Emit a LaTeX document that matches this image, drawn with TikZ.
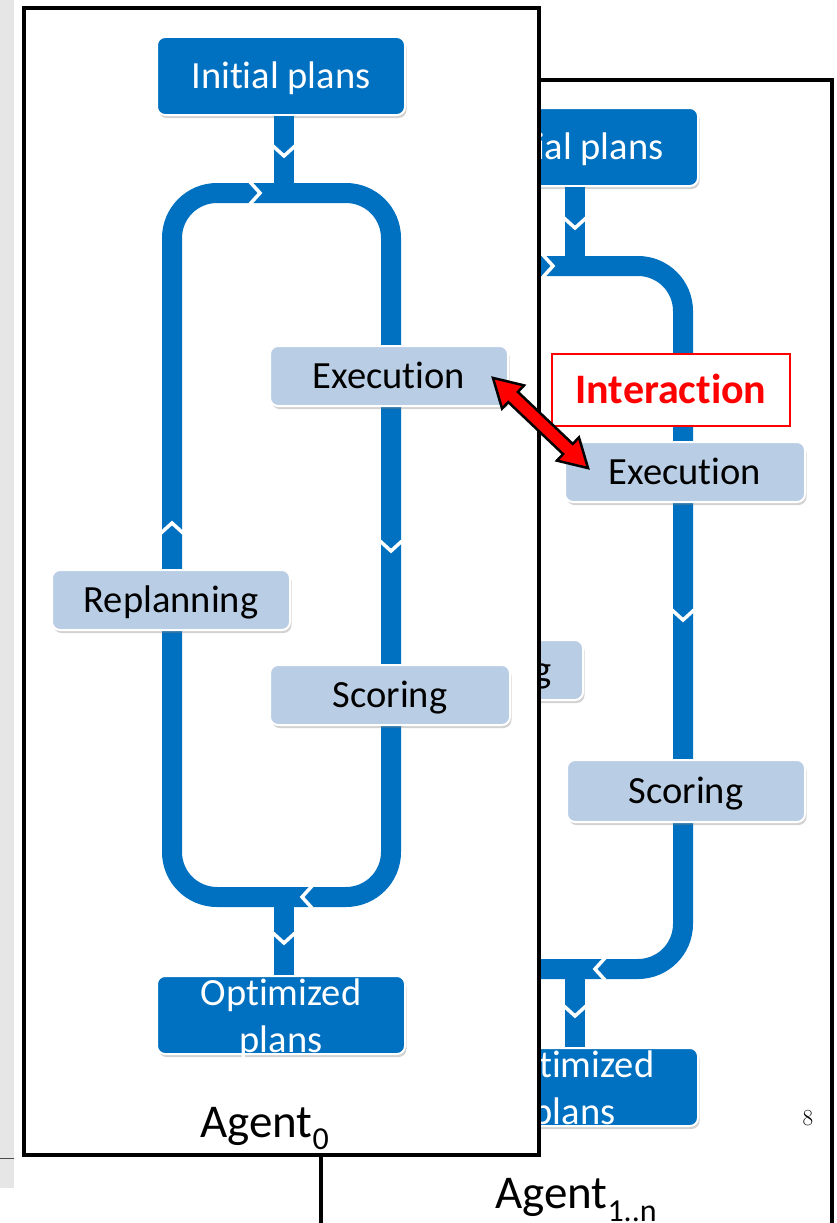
\documentclass[tikz,border=0pt]{standalone}
\usepackage{fontspec}
\setmainfont[Ligatures=NoCommon]{Carlito}
\newfontfamily\lmfont{Latin Modern Roman}
\usetikzlibrary{shadows,shapes.arrows}
\definecolor{pipeblue}{RGB}{0,112,192}
\definecolor{boxlight}{RGB}{185,205,229}
\definecolor{stripgray}{RGB}{230,230,230}
\begin{document}
\begin{tikzpicture}[x=1pt,y=-1pt,
  pipe/.style={draw=pipeblue, line width=20pt},
  boxbase/.style={rounded corners=8pt, draw=white, line width=2pt, inner sep=0pt,
    drop shadow={shadow xshift=1.5pt, shadow yshift=-3pt, opacity=0.35},
    font=\fontsize{38.5}{44}\selectfont, text height=25pt, text depth=0pt},
  darkbox/.style={boxbase, fill=pipeblue, text=white, minimum width=248pt, minimum height=78pt},
  lightnode/.style={boxbase, fill=boxlight, text=black, minimum width=238pt, minimum height=60pt},
  twoline/.style={anchor=base, align=center, text=white, inner sep=0pt, font=\fontsize{38.5}{47}\selectfont},
  agentframe/.style={draw=black, line width=4pt},
  agentlabel/.style={anchor=base west, inner sep=0pt, font=\fontsize{47}{50}\selectfont},
  chev/.pic={\draw[white, line width=3.5pt] (-11,-5) -- (0,5) -- (11,-5);}
]
\useasboundingbox (0,0) rectangle (837,1223);
\clip (0,0) rectangle (837,1223);
% left gray strip
\fill[stripgray] (0,0) rectangle (14,1188);
\draw[black!70, line width=0.8pt] (0,1158) -- (14,1158);

% ===== Agent 1..n (behind) =====
\draw[agentframe, fill=white] (321,80) rectangle (832,1280);
\coordinate (jt1) at (575,266);
\coordinate (jb1) at (575,969);
\draw[pipe, rounded corners=45pt] (464,266) rectangle (683,969);
\node[darkbox] (init1) at (574,147) {Initial plans};
\node[darkbox, text height=0pt] (opt1) at (574,1087) {};
\node[twoline] (opt1t) at (574,1124) {Optimized\\plans};
\draw[pipe] (jt1 |- init1.south) -- (jt1);
\draw[pipe] (jb1) -- (jb1 |- opt1.north);
\node[lightnode, minimum width=240pt] (exec1) at (685,472) {Execution};
\node[lightnode] (repl1) at (464,670) {Replanning};
\node[lightnode, minimum height=62pt] (score1) at (686,791) {Scoring};
\pic at (575,223) {chev};
\pic[rotate=90] at (548,266) {chev};
\pic at (683,615) {chev};
\pic[rotate=180] at (464,600) {chev};
\pic[rotate=-90] at (600,969) {chev};
\pic at (575,1011) {chev};
\node[agentlabel] (ag1) at (495,1208) {Agent\raisebox{-13pt}{\fontsize{32}{34}\selectfont 1..n}};

% ===== Agent 0 (front) =====
\draw[agentframe, fill=white] (24,8) rectangle (539,1155);
\coordinate (jt0) at (284,193);
\coordinate (jb0) at (284,897);
\draw[pipe, rounded corners=45pt] (172,193) rectangle (391,897);
\node[darkbox] (init0) at (281,76) {Initial plans};
\node[darkbox, text height=0pt] (opt0) at (281,1015) {};
\node[twoline] (opt0t) at (281,1052) {Optimized\\plans};
\draw[pipe] (jt0 |- init0.south) -- (jt0);
\draw[pipe] (jb0) -- (jb0 |- opt0.north);
\node[lightnode] (exec0) at (389,376) {Execution};
\node[lightnode] (repl0) at (171,600) {Replanning};
\node[lightnode, minimum width=240pt] (score0) at (390,695) {Scoring};
\pic at (284,151) {chev};
\pic[rotate=90] at (255,193) {chev};
\pic at (391,546) {chev};
\pic[rotate=180] at (172,528) {chev};
\pic[rotate=-90] at (307,897) {chev};
\pic at (284,938) {chev};
\node[agentlabel] (ag0) at (200,1137) {Agent\raisebox{-12pt}{\fontsize{32}{34}\selectfont 0}};

% ===== Interaction =====
\node[draw=red, line width=1.2pt, fill=white, minimum width=238pt, minimum height=72pt, inner sep=0pt,
  text=red, font=\fontsize{42}{46}\selectfont\bfseries, text height=27pt, text depth=0pt] (inter) at (671,390) {Interaction};
\coordinate (ia) at (492,377);
\coordinate (ib) at (589,469);
\path (ia) -- (ib) node[midway, sloped, double arrow, draw=black, fill=red, line width=2.5pt,
  minimum height=131pt, inner xsep=0pt, inner ysep=5.75pt, double arrow head extend=9pt,
  double arrow tip angle=60] (iarrow) {};

% page number
\node[font=\lmfont\fontsize{23}{26}\selectfont, inner sep=0pt] (pagenum) at (808,1118) {8};
\end{tikzpicture}
\end{document}
